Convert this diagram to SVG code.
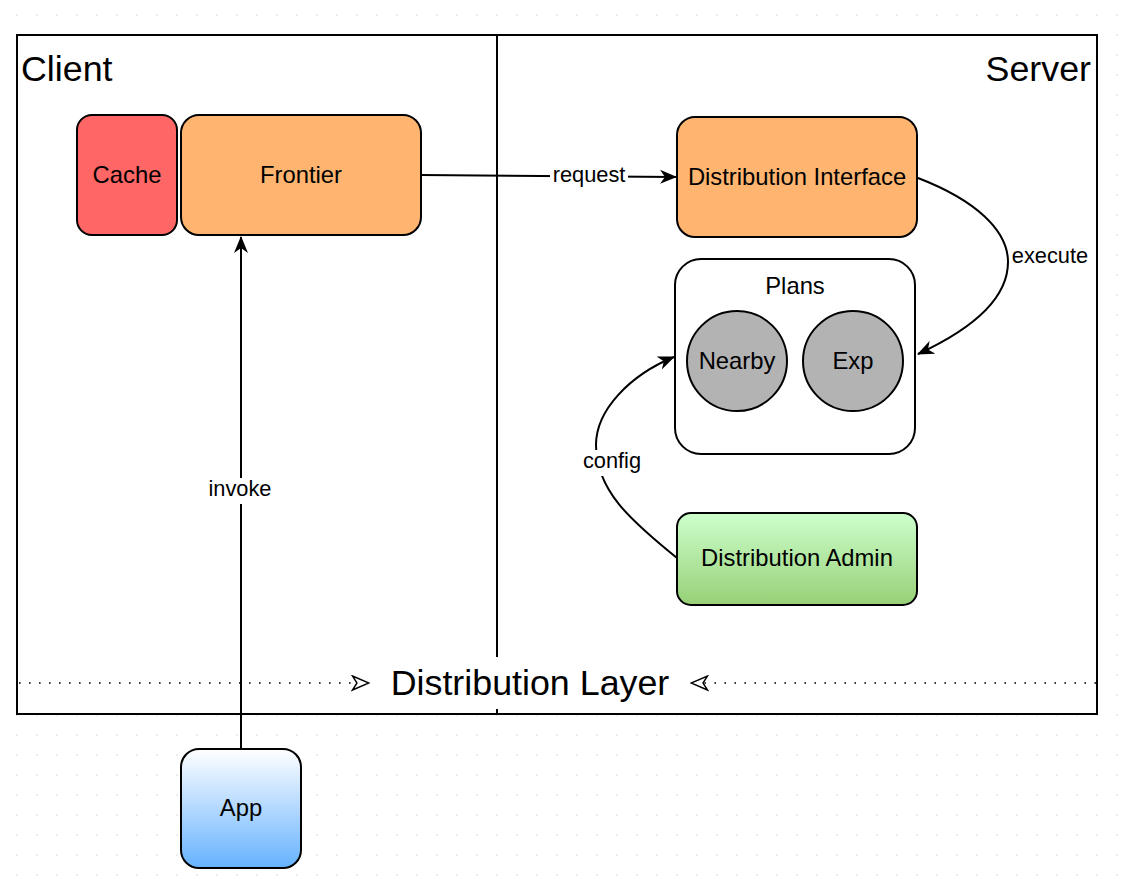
<svg xmlns="http://www.w3.org/2000/svg" width="1124" height="886" viewBox="0 0 1124 886">
<defs>
<pattern id="grid" x="7" y="5" width="20" height="20" patternUnits="userSpaceOnUse">
<circle cx="10" cy="10" r="0.8" fill="#d6d6d6"/>
</pattern>
<linearGradient id="gGreen" x1="0" y1="0" x2="0" y2="1">
<stop offset="0" stop-color="#CCFFCC"/>
<stop offset="1" stop-color="#97D077"/>
</linearGradient>
<linearGradient id="gBlue" x1="0" y1="0" x2="0" y2="1">
<stop offset="0" stop-color="#FFFFFF"/>
<stop offset="1" stop-color="#66B2FF"/>
</linearGradient>
<marker id="arrow" viewBox="0 0 17 15" refX="16" refY="7.5" markerWidth="17" markerHeight="15" markerUnits="userSpaceOnUse" orient="auto">
<path d="M0,0.5 L17,7.5 L0,14.5 L5,7.5 Z" fill="#000"/>
</marker>
<marker id="openArrow" viewBox="-1 -1 19 17" refX="17" refY="7.5" markerWidth="19" markerHeight="17" markerUnits="userSpaceOnUse" orient="auto">
<path d="M0.5,0.5 L17,7.5 L0.5,14.5 L5,7.5 Z" fill="#fff" stroke="#000" stroke-width="1.4" stroke-linejoin="miter"/>
</marker>
<style>
.node{stroke:#000;stroke-width:2}
.t{font-family:"Liberation Sans",Arial,Helvetica,sans-serif;fill:#000;text-anchor:middle}
.nt{font-size:23.8px}
.lt{font-size:21.8px}
.big{font-size:35.8px}
.edge{fill:none;stroke:#000;stroke-width:2}
.dot{fill:none;stroke:#000;stroke-width:1.6;stroke-dasharray:1.6 8.4}
.bg{fill:#fff}
</style>
</defs>
<rect width="1124" height="886" fill="#fff"/>
<rect width="1124" height="886" fill="url(#grid)"/>

<g id="container">
<rect x="17" y="35" width="1080" height="679" fill="#fff" stroke="#000" stroke-width="2"/>
<line x1="497" y1="35" x2="497" y2="714" stroke="#000" stroke-width="2"/>
<text class="t big" x="21" y="81" style="text-anchor:start">Client</text>
<text class="t big" x="1091" y="81" style="text-anchor:end">Server</text>
</g>

<g id="connectors">
<path class="edge" d="M241,749 L241,237" marker-end="url(#arrow)"/>
<rect class="bg" x="205" y="478" width="70" height="26"/>
<text class="t lt" x="240" y="496">invoke</text>

<path class="edge" d="M421,175 L676,177" marker-end="url(#arrow)"/>
<rect class="bg" x="550" y="163" width="78" height="25"/>
<text class="t lt" x="589" y="182">request</text>

<path class="edge" d="M918,178 C975,200 1008,230 1008,262 C1008,300 970,330 918,354" marker-end="url(#arrow)"/>
<rect class="bg" x="1011" y="244" width="80" height="25"/>
<text class="t lt" x="1050" y="263">execute</text>

<path class="edge" d="M677,558 C630,520 596,490 596,445 C596,410 630,375 674,357" marker-end="url(#arrow)"/>
<rect class="bg" x="583" y="450" width="59" height="26"/>
<text class="t lt" x="612" y="468">config</text>

<path class="dot" d="M19,683 L369,683" marker-end="url(#openArrow)"/>
<path class="dot" d="M1096,683 L691,683" marker-end="url(#openArrow)"/>
<rect class="bg" x="378" y="657" width="304" height="52"/>
<text class="t big" x="530" y="695">Distribution Layer</text>
</g>

<g id="cache">
<rect class="node" x="77" y="115" width="100" height="120" rx="15" fill="#FF6666"/>
<text class="t nt" x="127" y="183">Cache</text>
</g>
<g id="frontier">
<rect class="node" x="181" y="115" width="240" height="120" rx="18" fill="#FFB570"/>
<text class="t nt" x="301" y="183">Frontier</text>
</g>
<g id="distribution-interface">
<rect class="node" x="677" y="117" width="240" height="120" rx="18" fill="#FFB570"/>
<text class="t nt" x="797" y="185">Distribution Interface</text>
</g>
<g id="plans">
<rect class="node" x="675" y="259" width="240" height="195" rx="26" fill="#fff"/>
<text class="t nt" x="795" y="294">Plans</text>
</g>
<g id="nearby">
<circle class="node" cx="737" cy="361" r="50" fill="#B3B3B3"/>
<text class="t nt" x="737" y="369">Nearby</text>
</g>
<g id="exp">
<circle class="node" cx="853" cy="361" r="50" fill="#B3B3B3"/>
<text class="t nt" x="853" y="369">Exp</text>
</g>
<g id="distribution-admin">
<rect class="node" x="677" y="513" width="240" height="92" rx="14" fill="url(#gGreen)"/>
<text class="t nt" x="797" y="566">Distribution Admin</text>
</g>
<g id="app">
<rect class="node" x="181" y="749" width="120" height="119" rx="18" fill="url(#gBlue)"/>
<text class="t nt" x="241" y="816">App</text>
</g>
</svg>
